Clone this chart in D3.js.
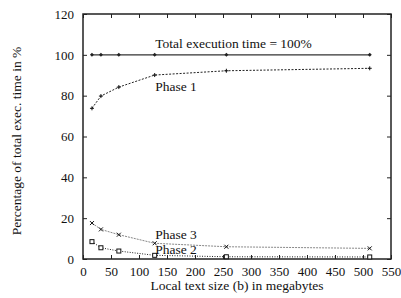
<!DOCTYPE html>
<html lang="en">
<head>
  <meta charset="UTF-8">
  <title>Execution time phases</title>
  <script src="https://d3js.org/d3.v7.min.js"></script>
  <style>
    body { margin: 0; background: #fff; }
    svg { display: block; }
    svg text { font-family: "Liberation Serif", "Times New Roman", Times, serif; font-size: 13.5px; fill: #111; }
    .axis text { font-size: 13px; }
  </style>
</head>
<body>
  <svg id="chart" width="401" height="298"></svg>
  <script>
    // Local text sizes in megabytes
    const sizes = [16, 32, 64, 128, 256, 512];
    // Percent of total execution time
    const total = [100, 100, 100, 100, 100, 100];
    const phase1 = [73.8, 79.8, 84.2, 90.1, 92.2, 93.4];
    const phase3 = [17.6, 14.5, 11.9, 7.7, 6.0, 5.2];
    const phase2 = [8.5, 5.5, 3.9, 1.8, 1.1, 1.0];
    const xTicks = [0, 50, 100, 150, 200, 250, 300, 350, 400, 450, 500, 550];
    const yTicks = [0, 20, 40, 60, 80, 100, 120];

    const svg = d3.select("#chart");
    const margin = {top: 14, right: 10, bottom: 39, left: 83};
    const width = 401 - margin.left - margin.right,
          height = 298 - margin.top - margin.bottom;
    const g = svg.append("g").attr("transform", `translate(${margin.left},${margin.top})`);

    const x = d3.scaleLinear().domain([0, 550]).range([0, width]);
    const y = d3.scaleLinear().domain([0, 120]).range([height, 0]);

    // axes with inward ticks
    g.append("g").attr("class", "axis")
      .attr("transform", `translate(0,${height})`)
      .call(d3.axisBottom(x).tickValues(xTicks).tickSize(-4).tickPadding(8))
      .call(a => a.select(".domain").remove());
    g.append("g").attr("class", "axis")
      .call(d3.axisTop(x).tickValues(xTicks).tickSize(-4).tickFormat(""))
      .call(a => a.select(".domain").remove());
    g.append("g").attr("class", "axis")
      .call(d3.axisLeft(y).tickValues(yTicks).tickSize(-4).tickPadding(9))
      .call(a => a.select(".domain").remove());
    g.append("g").attr("class", "axis")
      .attr("transform", `translate(${width},0)`)
      .call(d3.axisRight(y).tickValues(yTicks).tickSize(-4).tickFormat(""))
      .call(a => a.select(".domain").remove());
    g.selectAll(".axis").attr("font-family", null).attr("font-size", null);
    g.selectAll(".tick line").attr("stroke", "#222");

    g.append("rect")
      .attr("width", width).attr("height", height)
      .attr("fill", "none").attr("stroke", "#222").attr("stroke-width", 1.5);

    const line = d3.line().x((d, i) => x(sizes[i])).y(d => y(d));

    const series = [
      {vals: total, dash: null, color: "#333", w: 1.2, mark: "diamond"},
      {vals: phase1, dash: "2,1.5", color: "#222", w: 1, mark: "plus"},
      {vals: phase3, dash: "2,1", color: "#888", w: 1, mark: "cross"},
      {vals: phase2, dash: "1,1.5", color: "#222", w: 1, mark: "square"}
    ];

    series.forEach(s => {
      g.append("path").datum(s.vals)
        .attr("fill", "none").attr("stroke", s.color)
        .attr("stroke-width", s.w)
        .attr("stroke-dasharray", s.dash)
        .attr("d", line);
      const pts = g.selectAll(null).data(s.vals).enter().append("g")
        .attr("transform", (d, i) => `translate(${x(sizes[i])},${y(d)})`);
      if (s.mark === "diamond") {
        pts.append("path").attr("d", "M0,-2L2,0L0,2L-2,0Z").attr("fill", "#222");
      } else if (s.mark === "plus") {
        pts.append("path").attr("d", "M-2,0H2M0,-2V2").attr("stroke", "#111").attr("stroke-width", 1);
      } else if (s.mark === "cross") {
        pts.append("path").attr("d", "M-2,-2L2,2M-2,2L2,-2").attr("stroke", "#111").attr("stroke-width", 1);
      } else {
        pts.append("rect").attr("x", -2).attr("y", -2).attr("width", 4).attr("height", 4)
          .attr("fill", "#fff").attr("stroke", "#111").attr("stroke-width", 1);
      }
    });

    // series labels
    const labels = [
      {text: "Total execution time = 100%", v: 103.5},
      {text: "Phase 1", v: 82.5},
      {text: "Phase 3", v: 9.6},
      {text: "Phase 2", v: 2.4}
    ];
    g.selectAll(".lbl").data(labels).enter().append("text")
      .attr("x", x(129))
      .attr("y", d => y(d.v))
      .text(d => d.text);

    // axis titles
    svg.append("text")
      .attr("x", margin.left + width / 2).attr("y", 290)
      .attr("text-anchor", "middle")
      .text("Local text size (b) in megabytes");
    svg.append("text")
      .attr("transform", `translate(21,141) rotate(-90)`)
      .attr("text-anchor", "middle")
      .text("Percentage of total exec. time in %");
  </script>
</body>
</html>
